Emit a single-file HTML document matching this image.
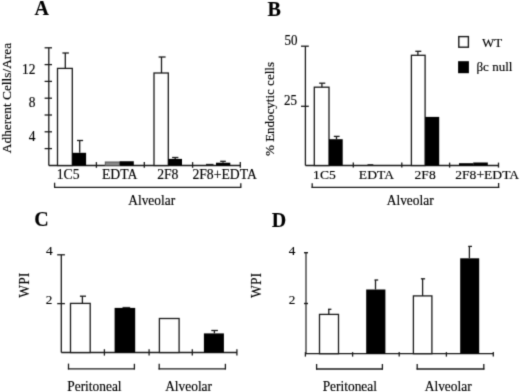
<!DOCTYPE html>
<html><head><meta charset="utf-8"><style>
html,body{margin:0;padding:0;background:#fff;}
svg{display:block;filter:grayscale(1);}
text{fill:#000;stroke:#000;stroke-width:0.15px;font-family:'Liberation Serif',serif;}
</style></head><body>
<svg width="520" height="392" viewBox="0 0 520 392">
<defs><filter id="soft" x="0" y="0" width="520" height="392" filterUnits="userSpaceOnUse" color-interpolation-filters="sRGB"><feConvolveMatrix order="3" kernelMatrix="0.019 0.1 0.019 0.1 0.524 0.1 0.019 0.1 0.019" edgeMode="duplicate" preserveAlpha="true"/></filter></defs>
<g filter="url(#soft)">
<rect width="520" height="392" fill="#fff"/>
<text transform="translate(34.5 15)" font-size="20" font-weight="bold">A</text>
<text transform="translate(11.2 98) rotate(-90)" font-size="13.4" text-anchor="middle">Adherent Cells/Area</text>
<line x1="48.8" y1="47.8" x2="48.8" y2="165.5" stroke="#1a1a1a" stroke-width="1.3"/>
<line x1="48.8" y1="165.5" x2="240.5" y2="165.5" stroke="#1a1a1a" stroke-width="1.3"/>
<line x1="44.6" y1="47.8" x2="52" y2="47.8" stroke="#1a1a1a" stroke-width="1.3"/>
<line x1="44.6" y1="64.6" x2="52" y2="64.6" stroke="#1a1a1a" stroke-width="1.3"/>
<line x1="44.6" y1="81.4" x2="52" y2="81.4" stroke="#1a1a1a" stroke-width="1.3"/>
<line x1="44.6" y1="98.2" x2="52" y2="98.2" stroke="#1a1a1a" stroke-width="1.3"/>
<line x1="44.6" y1="115.0" x2="52" y2="115.0" stroke="#1a1a1a" stroke-width="1.3"/>
<line x1="44.6" y1="131.8" x2="52" y2="131.8" stroke="#1a1a1a" stroke-width="1.3"/>
<line x1="44.6" y1="148.6" x2="52" y2="148.6" stroke="#1a1a1a" stroke-width="1.3"/>
<text transform="translate(35.5 73.7) scale(1 1.04)" font-size="13.4" text-anchor="end">12</text>
<text transform="translate(35.5 107.3) scale(1 1.04)" font-size="13.4" text-anchor="end">8</text>
<text transform="translate(35.5 140.9) scale(1 1.04)" font-size="13.4" text-anchor="end">4</text>
<line x1="96.4" y1="162.1" x2="96.4" y2="167.8" stroke="#1a1a1a" stroke-width="1.3"/>
<line x1="144.3" y1="162.1" x2="144.3" y2="167.8" stroke="#1a1a1a" stroke-width="1.3"/>
<line x1="192.6" y1="162.1" x2="192.6" y2="167.8" stroke="#1a1a1a" stroke-width="1.3"/>
<line x1="240.3" y1="162.1" x2="240.3" y2="167.8" stroke="#1a1a1a" stroke-width="1.3"/>
<rect x="57.5" y="68.4" width="14.8" height="97.1" fill="#fff" stroke="#1a1a1a" stroke-width="1.3"/>
<rect x="72.3" y="152.8" width="13.8" height="12.7" fill="#000"/>
<line x1="65.3" y1="68.4" x2="65.3" y2="53" stroke="#1a1a1a" stroke-width="1.3"/>
<line x1="62.4" y1="53" x2="68.9" y2="53" stroke="#1a1a1a" stroke-width="1.3"/>
<line x1="79.7" y1="152.8" x2="79.7" y2="140.5" stroke="#1a1a1a" stroke-width="1.3"/>
<line x1="77" y1="140.5" x2="83.1" y2="140.5" stroke="#1a1a1a" stroke-width="1.3"/>
<rect x="105.3" y="162" width="14.4" height="3.5" fill="#888" stroke="#555" stroke-width="1"/>
<rect x="119.7" y="161.25" width="14.1" height="4.25" fill="#000"/>
<rect x="154" y="73" width="14.3" height="92.5" fill="#fff" stroke="#1a1a1a" stroke-width="1.3"/>
<rect x="168.3" y="158.9" width="13.7" height="6.6" fill="#000"/>
<line x1="161.5" y1="73" x2="161.5" y2="57" stroke="#1a1a1a" stroke-width="1.3"/>
<line x1="158.6" y1="57" x2="165.6" y2="57" stroke="#1a1a1a" stroke-width="1.3"/>
<line x1="175.2" y1="158.9" x2="175.2" y2="157.5" stroke="#1a1a1a" stroke-width="1.3"/>
<line x1="172.1" y1="157.5" x2="178.4" y2="157.5" stroke="#1a1a1a" stroke-width="1.3"/>
<line x1="206" y1="164.4" x2="213.5" y2="164.4" stroke="#1a1a1a" stroke-width="1.1"/>
<rect x="216" y="162.7" width="14.3" height="2.8" fill="#000"/>
<line x1="223" y1="162.7" x2="223" y2="161.3" stroke="#1a1a1a" stroke-width="1.3"/>
<line x1="220.2" y1="161.3" x2="225.8" y2="161.3" stroke="#1a1a1a" stroke-width="1.3"/>
<text transform="translate(68.1 178.9)" font-size="13.7" text-anchor="middle">1C5</text>
<text transform="translate(119.7 178.9)" font-size="13.7" text-anchor="middle">EDTA</text>
<text transform="translate(167.8 178.9)" font-size="13.7" text-anchor="middle">2F8</text>
<text transform="translate(224.6 178.9)" font-size="13.7" text-anchor="middle">2F8+EDTA</text>
<line x1="54.6" y1="182.7" x2="54.6" y2="187.6" stroke="#1a1a1a" stroke-width="1.3"/>
<line x1="54" y1="187.4" x2="241.3" y2="187.4" stroke="#1a1a1a" stroke-width="1.3"/>
<line x1="240.8" y1="183.3" x2="240.8" y2="187.6" stroke="#1a1a1a" stroke-width="1.3"/>
<text transform="translate(151.7 204.6) scale(1 1.06)" font-size="13.4" text-anchor="middle">Alveolar</text>
<text transform="translate(267.5 16)" font-size="20" font-weight="bold">B</text>
<text transform="translate(274.3 109) rotate(-90)" font-size="13" text-anchor="middle">% Endocytic cells</text>
<line x1="305.4" y1="46.2" x2="305.4" y2="165.5" stroke="#1a1a1a" stroke-width="1.3"/>
<line x1="305.4" y1="165.5" x2="498.5" y2="165.5" stroke="#1a1a1a" stroke-width="1.3"/>
<line x1="301" y1="46.2" x2="308.8" y2="46.2" stroke="#1a1a1a" stroke-width="1.3"/>
<line x1="301" y1="106.3" x2="308.8" y2="106.3" stroke="#1a1a1a" stroke-width="1.3"/>
<text transform="translate(297.5 45) scale(1 1.08)" font-size="13" text-anchor="end">50</text>
<text transform="translate(297 105.3) scale(1 1.08)" font-size="13" text-anchor="end">25</text>
<line x1="353.3" y1="162.6" x2="353.3" y2="167.6" stroke="#1a1a1a" stroke-width="1.3"/>
<line x1="401.8" y1="162.6" x2="401.8" y2="167.6" stroke="#1a1a1a" stroke-width="1.3"/>
<line x1="449.6" y1="162.6" x2="449.6" y2="167.6" stroke="#1a1a1a" stroke-width="1.3"/>
<line x1="498.5" y1="162.6" x2="498.5" y2="167.6" stroke="#1a1a1a" stroke-width="1.3"/>
<rect x="314.3" y="87.2" width="14.7" height="78.3" fill="#fff" stroke="#1a1a1a" stroke-width="1.3"/>
<rect x="329" y="139.2" width="13.7" height="26.3" fill="#000"/>
<line x1="321.9" y1="87.2" x2="321.9" y2="83.2" stroke="#1a1a1a" stroke-width="1.3"/>
<line x1="319.2" y1="83.2" x2="325.3" y2="83.2" stroke="#1a1a1a" stroke-width="1.3"/>
<line x1="336.5" y1="139.2" x2="336.5" y2="136.4" stroke="#1a1a1a" stroke-width="1.3"/>
<line x1="333.8" y1="136.4" x2="339.6" y2="136.4" stroke="#1a1a1a" stroke-width="1.3"/>
<line x1="367.5" y1="164.8" x2="373.3" y2="164.8" stroke="#1a1a1a" stroke-width="1.2"/>
<rect x="411.4" y="55.3" width="13.7" height="110.2" fill="#fff" stroke="#1a1a1a" stroke-width="1.3"/>
<rect x="425.1" y="116.9" width="14.1" height="48.6" fill="#000"/>
<line x1="417.9" y1="55.3" x2="417.9" y2="51.3" stroke="#1a1a1a" stroke-width="1.3"/>
<line x1="415.3" y1="51.3" x2="421.3" y2="51.3" stroke="#1a1a1a" stroke-width="1.3"/>
<rect x="459" y="163.2" width="14.2" height="2.3" fill="#000"/>
<rect x="473.2" y="162.5" width="14.6" height="3.0" fill="#000"/>
<text transform="translate(324.4 179.2) scale(1 0.97)" font-size="13.6" text-anchor="middle">1C5</text>
<text transform="translate(376.4 179.2) scale(1 0.97)" font-size="13.6" text-anchor="middle">EDTA</text>
<text transform="translate(425.1 179.2) scale(1 0.97)" font-size="13.6" text-anchor="middle">2F8</text>
<text transform="translate(487.2 179.2) scale(1 0.97)" font-size="13.6" text-anchor="middle">2F8+EDTA</text>
<line x1="312.2" y1="183.3" x2="312.2" y2="188" stroke="#1a1a1a" stroke-width="1.3"/>
<line x1="311.6" y1="187.4" x2="499.2" y2="187.4" stroke="#1a1a1a" stroke-width="1.3"/>
<line x1="498.6" y1="183" x2="498.6" y2="188" stroke="#1a1a1a" stroke-width="1.3"/>
<text transform="translate(410.2 205) scale(1 1.06)" font-size="13.4" text-anchor="middle">Alveolar</text>
<rect x="458.8" y="36.6" width="9.6" height="10.6" fill="#fff" stroke="#1a1a1a" stroke-width="1.4"/>
<rect x="458.1" y="61.2" width="10.8" height="12" fill="#000"/>
<text transform="translate(482 47.4)" font-size="13">WT</text>
<text transform="translate(476.5 71.3)" font-size="13">βc null</text>
<text transform="translate(34.3 226.4)" font-size="20" font-weight="bold">C</text>
<text transform="translate(29 285.2) rotate(-90)" font-size="13.6" text-anchor="middle">WPI</text>
<line x1="61.3" y1="254.8" x2="61.3" y2="352.5" stroke="#1a1a1a" stroke-width="1.3"/>
<line x1="61.3" y1="352.5" x2="237" y2="352.5" stroke="#1a1a1a" stroke-width="1.3"/>
<line x1="57.2" y1="254.8" x2="64.9" y2="254.8" stroke="#1a1a1a" stroke-width="1.3"/>
<line x1="57.2" y1="303.6" x2="64.9" y2="303.6" stroke="#1a1a1a" stroke-width="1.3"/>
<text transform="translate(52.6 254.8)" font-size="13.2" text-anchor="end">4</text>
<text transform="translate(52.3 304)" font-size="13.2" text-anchor="end">2</text>
<line x1="104.4" y1="349.2" x2="104.4" y2="355.6" stroke="#1a1a1a" stroke-width="1.3"/>
<line x1="149.1" y1="349.2" x2="149.1" y2="355.6" stroke="#1a1a1a" stroke-width="1.3"/>
<line x1="192.3" y1="349.2" x2="192.3" y2="355.6" stroke="#1a1a1a" stroke-width="1.3"/>
<line x1="236.9" y1="349.2" x2="236.9" y2="355.6" stroke="#1a1a1a" stroke-width="1.3"/>
<rect x="70.5" y="303.4" width="19.7" height="49.1" fill="#fff" stroke="#1a1a1a" stroke-width="1.3"/>
<line x1="82.4" y1="303.4" x2="82.4" y2="296.2" stroke="#1a1a1a" stroke-width="1.3"/>
<line x1="79.9" y1="296.2" x2="86" y2="296.2" stroke="#1a1a1a" stroke-width="1.3"/>
<rect x="114.6" y="307.9" width="20.6" height="44.6" fill="#000"/>
<line x1="122.5" y1="307.4" x2="130.2" y2="307.4" stroke="#1a1a1a" stroke-width="1"/>
<rect x="159.4" y="318.5" width="19.7" height="34.0" fill="#fff" stroke="#1a1a1a" stroke-width="1.3"/>
<rect x="203.9" y="333.4" width="20.0" height="19.1" fill="#000"/>
<line x1="214.4" y1="333.4" x2="214.4" y2="330.5" stroke="#1a1a1a" stroke-width="1.3"/>
<line x1="211.3" y1="330.5" x2="217.9" y2="330.5" stroke="#1a1a1a" stroke-width="1.3"/>
<line x1="68.5" y1="363.6" x2="68.5" y2="369.4" stroke="#1a1a1a" stroke-width="1.3"/>
<line x1="67.9" y1="368.8" x2="135" y2="368.8" stroke="#1a1a1a" stroke-width="1.3"/>
<line x1="134.4" y1="363.8" x2="134.4" y2="369.4" stroke="#1a1a1a" stroke-width="1.3"/>
<line x1="159.2" y1="363.8" x2="159.2" y2="369.4" stroke="#1a1a1a" stroke-width="1.3"/>
<line x1="158.6" y1="368.8" x2="226" y2="368.8" stroke="#1a1a1a" stroke-width="1.3"/>
<line x1="225.4" y1="363.8" x2="225.4" y2="369.4" stroke="#1a1a1a" stroke-width="1.3"/>
<text transform="translate(94.4 390.6) scale(1 1.06)" font-size="13.4" text-anchor="middle">Peritoneal</text>
<text transform="translate(188.6 390.6) scale(1 1.06)" font-size="13.4" text-anchor="middle">Alveolar</text>
<text transform="translate(271.8 226.8)" font-size="20" font-weight="bold">D</text>
<text transform="translate(261.2 285.5) rotate(-90)" font-size="13.6" text-anchor="middle">WPI</text>
<line x1="306" y1="252.7" x2="306" y2="353.7" stroke="#6a6a6a" stroke-width="1.8"/>
<line x1="305.1" y1="353.7" x2="493.3" y2="353.7" stroke="#1a1a1a" stroke-width="1.3"/>
<line x1="304" y1="252.7" x2="308" y2="252.7" stroke="#1a1a1a" stroke-width="1.4"/>
<line x1="304" y1="303.5" x2="308" y2="303.5" stroke="#1a1a1a" stroke-width="1.4"/>
<text transform="translate(295.4 255)" font-size="13.2" text-anchor="end">4</text>
<text transform="translate(295.4 304.4)" font-size="13.2" text-anchor="end">2</text>
<line x1="305.4" y1="352.1" x2="305.4" y2="356.6" stroke="#1a1a1a" stroke-width="1.3"/>
<line x1="352.6" y1="352.1" x2="352.6" y2="356.6" stroke="#1a1a1a" stroke-width="1.3"/>
<line x1="399.2" y1="352.1" x2="399.2" y2="356.6" stroke="#1a1a1a" stroke-width="1.3"/>
<line x1="446.4" y1="352.1" x2="446.4" y2="356.6" stroke="#1a1a1a" stroke-width="1.3"/>
<line x1="493.3" y1="352.1" x2="493.3" y2="356.6" stroke="#1a1a1a" stroke-width="1.3"/>
<rect x="319.5" y="314.4" width="19.0" height="39.3" fill="#fff" stroke="#1a1a1a" stroke-width="1.3"/>
<line x1="328.8" y1="314.4" x2="328.8" y2="309.3" stroke="#1a1a1a" stroke-width="1.3"/>
<line x1="328" y1="309.3" x2="331.4" y2="309.3" stroke="#1a1a1a" stroke-width="1.3"/>
<rect x="366.2" y="289.5" width="19.2" height="64.2" fill="#000"/>
<line x1="375.5" y1="289.5" x2="375.5" y2="280" stroke="#1a1a1a" stroke-width="1.3"/>
<line x1="374.5" y1="280" x2="378.2" y2="280" stroke="#1a1a1a" stroke-width="1.3"/>
<rect x="413.4" y="295.9" width="18.5" height="57.8" fill="#fff" stroke="#1a1a1a" stroke-width="1.3"/>
<line x1="422.6" y1="295.9" x2="422.6" y2="278.8" stroke="#1a1a1a" stroke-width="1.3"/>
<line x1="420.9" y1="278.8" x2="425.1" y2="278.8" stroke="#1a1a1a" stroke-width="1.3"/>
<rect x="460.2" y="258.3" width="19.0" height="95.4" fill="#000"/>
<line x1="469.4" y1="258.3" x2="469.4" y2="246.4" stroke="#1a1a1a" stroke-width="1.3"/>
<line x1="468.2" y1="246.4" x2="472" y2="246.4" stroke="#1a1a1a" stroke-width="1.3"/>
<line x1="316.6" y1="364" x2="316.6" y2="369.6" stroke="#1a1a1a" stroke-width="1.3"/>
<line x1="316" y1="369" x2="383" y2="369" stroke="#1a1a1a" stroke-width="1.3"/>
<line x1="382.4" y1="364" x2="382.4" y2="369.6" stroke="#1a1a1a" stroke-width="1.3"/>
<line x1="417.2" y1="364" x2="417.2" y2="369.6" stroke="#1a1a1a" stroke-width="1.3"/>
<line x1="416.6" y1="369" x2="484.4" y2="369" stroke="#1a1a1a" stroke-width="1.3"/>
<line x1="483.8" y1="364" x2="483.8" y2="369.6" stroke="#1a1a1a" stroke-width="1.3"/>
<text transform="translate(349.8 390.7) scale(1 1.06)" font-size="13.4" text-anchor="middle">Peritoneal</text>
<text transform="translate(448.2 391.3) scale(1 1.06)" font-size="13.4" text-anchor="middle">Alveolar</text>
</g>
</svg>
</body></html>
